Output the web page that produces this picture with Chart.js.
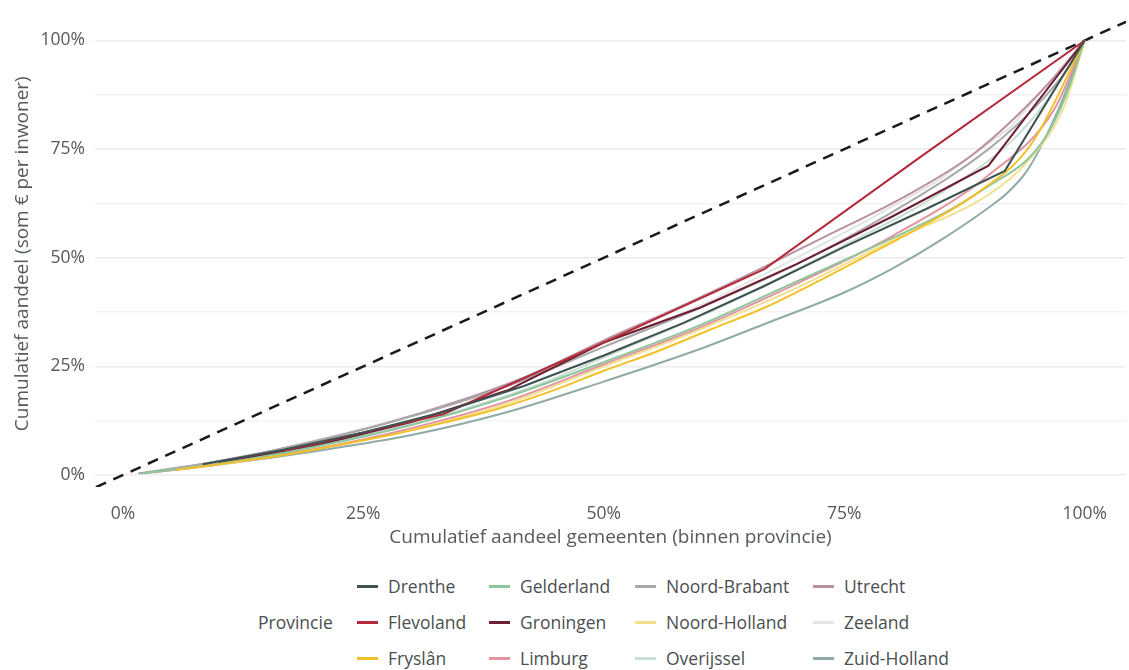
<!DOCTYPE html>
<html><head><meta charset="utf-8">
<script src="https://cdn.jsdelivr.net/npm/chart.js@4/dist/chart.umd.min.js"></script>
<style>
html,body{margin:0;padding:0;background:#fff;}
#wrap{position:relative;width:1129px;height:670px;font-family:"Open Sans",sans-serif;overflow:hidden;}
#c{position:absolute;left:0;top:0;}
#legend{position:absolute;left:0;top:566px;width:1129px;height:104px;}
.lt{position:absolute;font-size:17.5px;color:#4a4f4f;white-space:nowrap;line-height:20px;}
.sw{position:absolute;width:21px;height:3px;}
</style></head><body>
<div id="wrap"><canvas id="c" width="1129" height="560"></canvas><div id="legend"></div></div>
<script>
// ---- data (cumulative share of municipalities %, cumulative share of € per inhabitant %) ----
const provinces = ["Drenthe","Flevoland","Fryslân","Gelderland","Groningen","Limburg","Noord-Brabant","Noord-Holland","Overijssel","Utrecht","Zeeland","Zuid-Holland"];
const colors = ["#3e5252","#b42a3c","#f3c02a","#8cc69c","#6b1f31","#e2959f","#a9a9a9","#f3e08e","#c9ddd1","#b8939f","#e4e4e4","#8faaa9"];

const drentheX = [8.3,16.7,25,33.3,41.7,50,58.3,66.7,75,83.3,91.7,100];
const drentheY = [2.5,5.8,9.8,14.5,20.5,27.5,35,43.5,52.5,61,70,100];
const flevolandX = [16.7,33.3,50,66.7,83.3,100];
const flevolandY = [5.6,14,30.5,47.4,73.8,100];
const fryslanX = [5.6,11.1,16.7,22.2,27.8,33.3,38.9,44.4,50,55.6,61.1,66.7,72.2,77.8,83.3,88.9,94.4,100];
const fryslanY = [1.2,2.8,4.6,6.8,9.2,12,15.2,19.2,24,28.5,33.5,38.5,44.5,51,57.5,65,76,100];
const gelderlandX = [2,10,20,30,40,50,60,70,80,86,90,94,96,98,100];
const gelderlandY = [0.4,2.6,6.5,11.5,18,26,34.5,44.5,54.5,61,66.5,72.5,78,87,100];
const groningenX = [10,20,30,40,50,60,70,80,90,100];
const groningenY = [2.8,6.8,12.2,19.5,30.5,38.5,48.5,59.5,71.2,100];
const limburgX = [3.2,10,20,30,40,50,60,70,80,90,96.8,100];
const limburgY = [0.6,2.5,6,10.8,17,25.5,34,44,55,69,84,100];
const noordBrabantX = [1.6,10,20,30,40,50,60,70,80,90,95,98.4,100];
const noordBrabantY = [0.4,3.2,7.8,13.5,20.5,29.5,38.5,48.5,60.5,75,85,94,100];
const noordHollandX = [2.1,10,20,30,40,50,60,70,80,90,94,97.9,100];
const noordHollandY = [0.4,2.4,6,10.5,16.5,25,33.5,43,54,64.5,72,85,100];
const overijsselX = [4,12,20,28,36,44,52,60,68,76,84,92,96,100];
const overijsselY = [1,3.4,6.8,10.6,15.5,21.5,29,36.5,45,54,63.5,76,86,100];
const utrechtX = [3.8,11.5,19.2,26.9,34.6,42.3,50,57.7,65.4,73.1,80.8,88.5,96.2,100];
const utrechtY = [0.9,3.8,7.4,11.6,16.8,23,31,38.5,46.5,55,63.5,74,90,100];
const zeelandX = [7.7,15.4,23.1,30.8,38.5,46.2,53.8,61.5,69.2,76.9,84.6,92.3,100];
const zeelandY = [2.4,5.6,9.6,14.2,19.5,26,33,40.5,49,58,67.5,80,100];
const zuidHollandX = [1.9,10,20,30,40,50,60,67,75,80,85,90,92,94,96,98,100];
const zuidHollandY = [0.4,2.4,5.5,9.2,14.5,21.5,29,35,42,47.5,54,61.5,65,70,78,88,100];

const seriesX = [drentheX,flevolandX,fryslanX,gelderlandX,groningenX,limburgX,noordBrabantX,noordHollandX,overijsselX,utrechtX,zeelandX,zuidHollandX];
const seriesY = [drentheY,flevolandY,fryslanY,gelderlandY,groningenY,limburgY,noordBrabantY,noordHollandY,overijsselY,utrechtY,zeelandY,zuidHollandY];
const piecewise = ["Drenthe","Flevoland","Groningen","Zeeland"];

const equalityLine = [-10, 110];
const xTicks = [0,25,50,75,100];
const yGrid = [0,12.5,25,37.5,50,62.5,75,87.5,100];
const xTitle = "Cumulatief aandeel gemeenten (binnen provincie)";
const yTitle = "Cumulatief aandeel (som € per inwoner)";
const legendTitle = "Provincie";

// ---- chart ----
const textColor = "#555a5a";
const datasets = provinces.map((p,i)=>({
  label: p,
  data: seriesX[i].map((x,j)=>({x:x,y:seriesY[i][j]})),
  borderColor: colors[i],
  backgroundColor: colors[i],
  borderWidth: 2,
  pointRadius: 0,
  fill: false,
  cubicInterpolationMode: piecewise.includes(p) ? 'default' : 'monotone',
  tension: 0
}));
datasets.push({
  label: "_diag",
  data: equalityLine.map(v=>({x:v,y:v})),
  borderColor: "#1a1a1a",
  borderWidth: 2.5,
  borderDash: [11,8],
  pointRadius: 0,
  fill: false
});

const chart = new Chart(document.getElementById('c'), {
  type: 'line',
  data: { datasets },
  options: {
    responsive: false,
    animation: false,
    layout: { padding: { top: 18, right: 3, left: 0, bottom: 0 } },
    plugins: { legend: { display: false }, tooltip: { enabled: false } },
    scales: {
      x: {
        type: 'linear', min: -2.9, max: 104.3,
        grid: { display: false },
        border: { display: false },
        afterBuildTicks: s => { s.ticks = xTicks.map(v=>({value:v})); },
        afterFit: s => { s.height = 73; },
        ticks: { callback: v => v + '%', padding: 9, color: textColor, font: { family: "Open Sans", size: 17.5 }, maxRotation: 0 },
        title: { display: true, text: xTitle, color: textColor, font: { family: "Open Sans", size: 19 }, padding: { top: 0, bottom: 11 } }
      },
      y: {
        type: 'linear', min: -2.75, max: 104.6,
        afterBuildTicks: s => { s.ticks = yGrid.map(v=>({value:v})); },
        afterFit: s => { s.width = 95; },
        grid: { drawTicks: false, color: ctx => (ctx.tick && ctx.tick.value % 25 === 0) ? '#ebebeb' : '#f3f3f3', lineWidth: 1.5 },
        border: { display: false },
        ticks: { callback: v => (v % 25 === 0 ? v + '%' : ''), padding: 10, color: textColor, font: { family: "Open Sans", size: 17.5 } },
        title: { display: true, text: yTitle, color: textColor, font: { family: "Open Sans", size: 19 }, padding: { top: 11, bottom: 0 } }
      }
    }
  }
});

// ---- legend (built from the datasets) ----
const leg = document.getElementById('legend');
const colLeft = [357, 489, 635, 813];
const rowTop = [10, 46, 82];
const t = document.createElement('div');
t.className = 'lt'; t.textContent = legendTitle; t.style.left = '258px'; t.style.top = (rowTop[1]) + 'px';
leg.appendChild(t);
chart.data.datasets.filter(d=>d.label !== '_diag').forEach((d,i)=>{
  const col = Math.floor(i/3), row = i%3;
  const sw = document.createElement('div');
  sw.className = 'sw'; sw.style.background = d.borderColor;
  sw.style.left = colLeft[col] + 'px'; sw.style.top = (rowTop[row] + 9) + 'px';
  leg.appendChild(sw);
  const lt = document.createElement('div');
  lt.className = 'lt'; lt.textContent = d.label;
  lt.style.left = (colLeft[col] + 31) + 'px'; lt.style.top = rowTop[row] + 'px';
  leg.appendChild(lt);
});
</script>
</body></html>
